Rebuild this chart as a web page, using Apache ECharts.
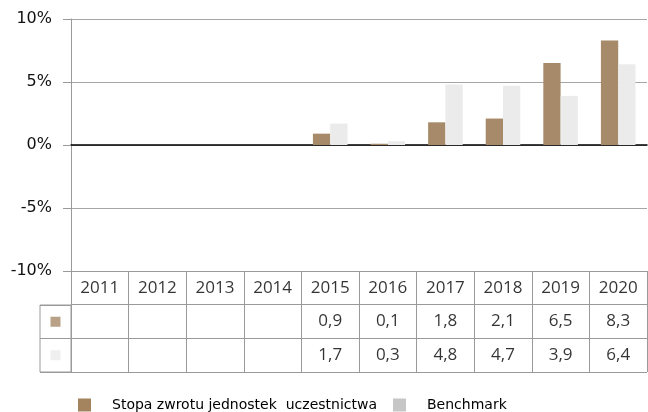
<!DOCTYPE html>
<html lang="pl">
<head>
    <meta charset="utf-8"/>
    <title>Stopa zwrotu</title>
    <script type="text/javascript" src="https://cdn.jsdelivr.net/npm/echarts@6/dist/echarts.min.js"></script>
    <style>
        html, body {
            margin: 0;
            background: #FFFFFF;
        }

        #chart {
            width: 648px;
            height: 412px;
        }
    </style>
</head>
<body>
<div id="chart"></div>
<script>
    var years = ['2011', '2012', '2013', '2014', '2015', '2016', '2017', '2018', '2019', '2020'];
    var fundReturn = [null, null, null, null, 0.9, 0.1, 1.8, 2.1, 6.5, 8.3];
    var benchmark = [null, null, null, null, 1.7, 0.3, 4.8, 4.7, 3.9, 6.4];
    var seriesNames = ['Stopa zwrotu jednostek  uczestnictwa', 'Benchmark'];
    var yTicks = { min: -10, max: 10, interval: 5 };

    var BROWN = '#A68A69';
    var GREY = '#EBEBEB';
    var LINE = '#9A9A9A';

    function fmt(v) {
        return v.toFixed(1).replace('.', ',');
    }

    // table cells: header row with the years, then one row per series
    var cells = [];
    years.forEach(function (y, i) {
        cells.push({ value: [y, 'h'], text: y });
        if (fundReturn[i] != null) cells.push({ value: [y, 's1'], text: fmt(fundReturn[i]) });
        if (benchmark[i] != null) cells.push({ value: [y, 's2'], text: fmt(benchmark[i]) });
    });

    var legendText = { fontFamily: 'DejaVu Sans', fontSize: 14, color: '#000', padding: [0, 0, 0, 16] };

    var chart = echarts.init(document.getElementById('chart'), null, { renderer: 'canvas' });

    chart.setOption({
        animation: false,
        textStyle: { fontFamily: 'DejaVu Sans' },
        grid: [
            { left: 71, right: 1, top: 19, bottom: 141 },
            { left: 71, right: 1, top: 271, bottom: 40 },
            { left: 40, width: 31, top: 305, bottom: 40, show: true, borderColor: LINE, borderWidth: 1 }
        ],
        legend: [
            {
                data: [{ name: seriesNames[0], itemStyle: { color: '#A3845E' } }],
                left: 78, top: 398, padding: 0, itemWidth: 13, itemHeight: 13,
                icon: 'rect', textStyle: legendText
            },
            {
                data: [{ name: seriesNames[1], itemStyle: { color: '#C6C6C6' } }],
                left: 393, top: 398, padding: 0, itemWidth: 13, itemHeight: 13,
                icon: 'rect', textStyle: legendText
            }
        ],
        xAxis: [
            {
                type: 'category', gridIndex: 0, data: years,
                axisLine: { onZero: true, lineStyle: { color: '#000', width: 1.5 } },
                axisTick: { show: false },
                axisLabel: { show: false }
            },
            {
                type: 'category', gridIndex: 1, data: years,
                axisLine: { show: false },
                axisTick: { show: false },
                axisLabel: { show: false },
                splitLine: { show: true, interval: 0, lineStyle: { color: LINE, width: 1 } }
            },
            {
                type: 'category', gridIndex: 2, data: ['k'],
                axisLine: { show: false }, axisTick: { show: false }, axisLabel: { show: false }
            }
        ],
        yAxis: [
            {
                type: 'value', gridIndex: 0,
                min: yTicks.min, max: yTicks.max, interval: yTicks.interval,
                axisLine: { show: true, lineStyle: { color: LINE } },
                axisTick: { show: true, length: 8, lineStyle: { color: LINE } },
                axisLabel: { formatter: '{value}%', fontSize: 16, color: '#111', margin: 19, fontFamily: 'DejaVu Sans' },
                splitLine: { show: true, lineStyle: { color: '#A6A6A6', width: 1 } }
            },
            {
                type: 'category', gridIndex: 1, data: ['h', 's1', 's2'], inverse: true,
                axisLine: { show: true, lineStyle: { color: LINE } },
                axisTick: { show: false },
                axisLabel: { show: false },
                splitLine: { show: true, interval: 0, lineStyle: { color: LINE, width: 1 } }
            },
            {
                type: 'category', gridIndex: 2, data: ['s1', 's2'], inverse: true,
                axisLine: { show: false }, axisTick: { show: false }, axisLabel: { show: false },
                splitLine: { show: true, interval: 0, lineStyle: { color: LINE, width: 1 } }
            }
        ],
        series: [
            {
                name: seriesNames[0], type: 'bar', xAxisIndex: 0, yAxisIndex: 0,
                data: fundReturn, barWidth: '30%', barGap: '0%',
                itemStyle: { color: BROWN }
            },
            {
                name: seriesNames[1], type: 'bar', xAxisIndex: 0, yAxisIndex: 0,
                data: benchmark, barWidth: '30%', barGap: '0%',
                itemStyle: { color: GREY }
            },
            {
                // table texts
                type: 'scatter', xAxisIndex: 1, yAxisIndex: 1,
                data: cells, symbolSize: 1, itemStyle: { color: 'rgba(0,0,0,0)' },
                label: {
                    show: true, position: 'inside',
                    formatter: function (p) { return p.data.text; },
                    fontFamily: 'Open Sans', fontSize: 17, color: '#000'
                },
                silent: true
            },
            {
                // colour keys in the first table column
                type: 'scatter', xAxisIndex: 2, yAxisIndex: 2,
                data: [
                    { value: ['k', 's1'], itemStyle: { color: BROWN } },
                    { value: ['k', 's2'], itemStyle: { color: GREY } }
                ],
                symbol: 'rect', symbolSize: 10, silent: true
            }
        ]
    });
</script>
</body>
</html>
